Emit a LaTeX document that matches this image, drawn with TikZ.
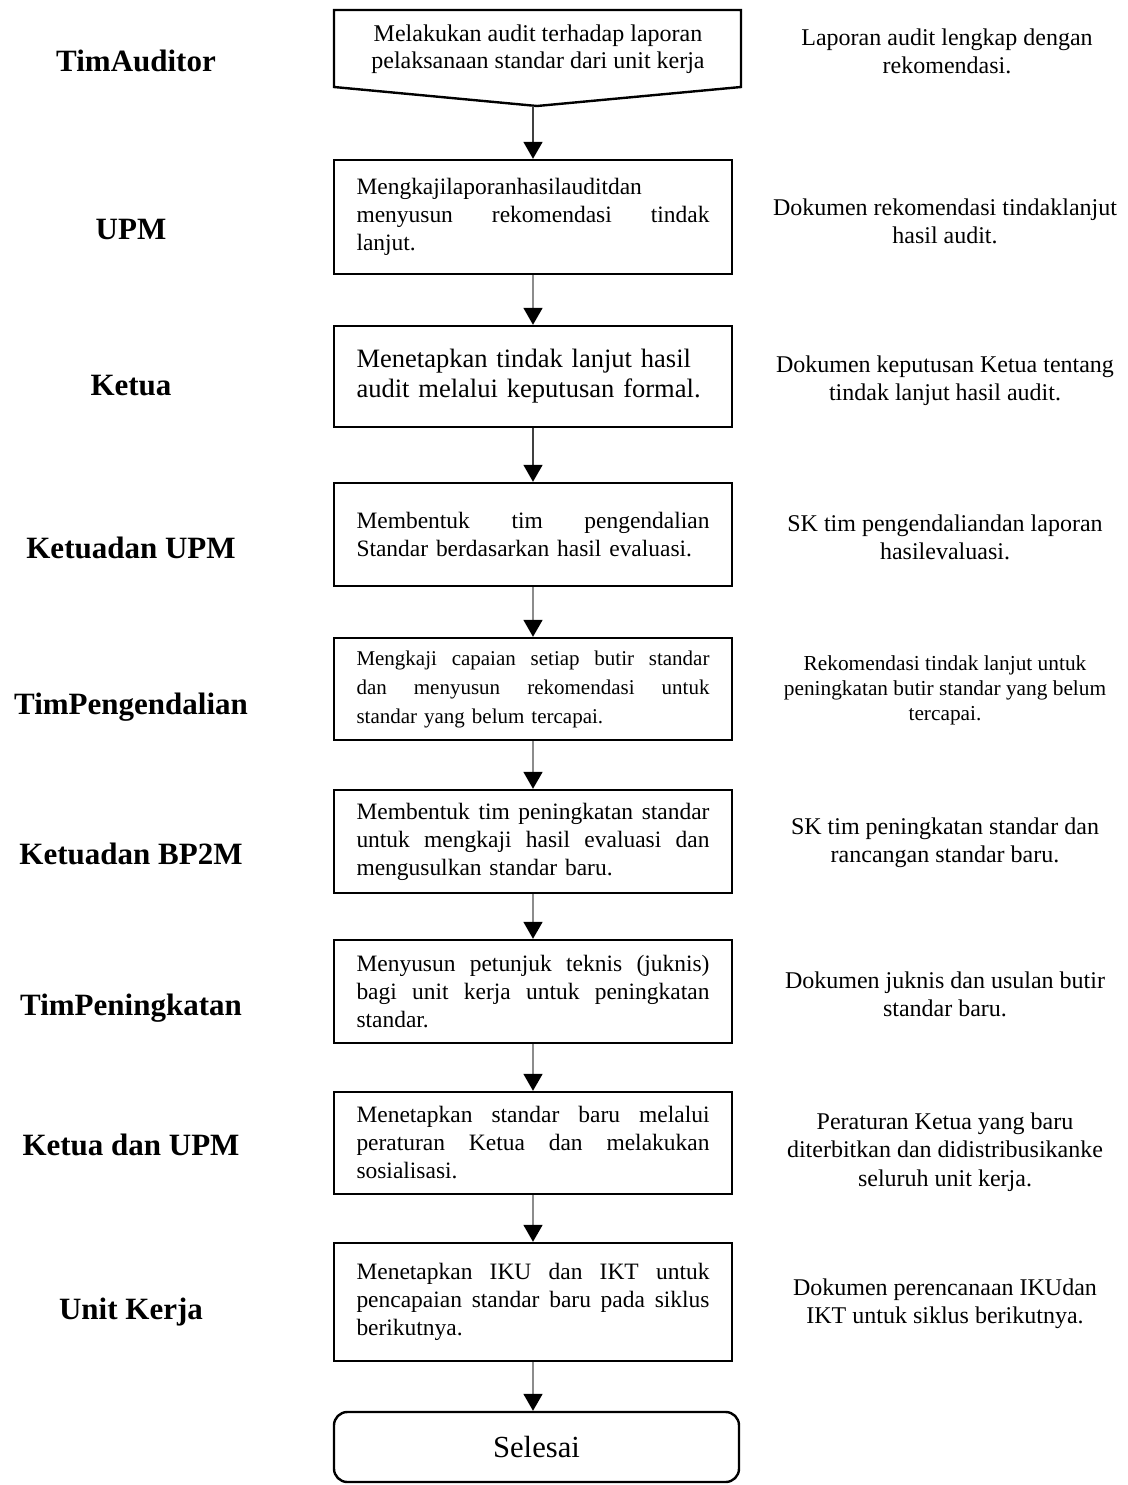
\documentclass[tikz,border=0pt]{standalone}
\usepackage{fontspec}
\setmainfont{Liberation Serif}
\usetikzlibrary{arrows.meta}
\definecolor{shaftdark}{gray}{0.25}
\definecolor{shaftlight}{gray}{0.55}
% a line whose interword spaces are stretched to the full text width
\newcommand{\fullline}[1]{\noindent\hbox to 264.75pt{\spaceskip=0.25em plus 1fil\relax #1}}
\begin{document}
\begin{tikzpicture}[x=0.75pt,y=-0.75pt,
  stepbox/.style={draw=black,line width=1.8pt,rectangle,text width=264.75pt,
    inner xsep=16.875pt,inner ysep=0pt,align=left,
    font=\fontsize{17.6pt}{21pt}\selectfont},
  boxh/.style={minimum height=#1*0.75pt},
  role/.style={anchor=base,font=\bfseries\fontsize{23.25pt}{26pt}\selectfont},
  output/.style={align=center,font=\fontsize{18pt}{21.2pt}\selectfont},
  flow/.style={draw=#1,line width=1.3pt,
    -{Triangle[length=12.75pt,width=14.25pt,color=black]}},
  flow/.default=shaftlight
]
\useasboundingbox (0,0) rectangle (1128,1485);

% first step: off-page connector shape
\draw[line width=1.8pt,line join=miter] (334,10) -- (741,10) -- (741,87) -- (537,106) -- (334,87) -- cycle;
\node[align=center,font=\fontsize{18pt}{20.3pt}\selectfont] (t1) at (538,49)
  {Melakukan audit terhadap laporan\\pelaksanaan standar dari unit kerja};
\coordinate (tip) at (533,106);

% process boxes
\node[stepbox,boxh=114] (b2) at (533,217)
  {Mengkajilaporanhasilauditdan\\\fullline{menyusun rekomendasi tindak}\\lanjut.};
\node[stepbox,boxh=101,font=\fontsize{19.9pt}{22.5pt}\selectfont] (b3) at (533,376.5)
  {Menetapkan tindak lanjut hasil\\audit melalui keputusan formal.};
\node[stepbox,boxh=103] (b4) at (533,534.5)
  {\fullline{Membentuk tim pengendalian}\\Standar berdasarkan hasil evaluasi.};
\node[stepbox,boxh=102,font=\fontsize{15.75pt}{21.75pt}\selectfont] (b5) at (533,689)
  {\fullline{Mengkaji capaian setiap butir standar}\\\fullline{dan menyusun rekomendasi untuk}\\standar yang belum tercapai.};
\node[stepbox,boxh=103] (b6) at (533,841.5)
  {\fullline{Membentuk tim peningkatan standar}\\\fullline{untuk mengkaji hasil evaluasi dan}\\mengusulkan standar baru.};
\node[stepbox,boxh=103] (b7) at (533,991.5)
  {\fullline{Menyusun petunjuk teknis (juknis)}\\\fullline{bagi unit kerja untuk peningkatan}\\standar.};
\node[stepbox,boxh=102] (b8) at (533,1143)
  {\fullline{Menetapkan standar baru melalui}\\\fullline{peraturan Ketua dan melakukan}\\sosialisasi.};
\node[stepbox,boxh=118] (b9) at (533,1302)
  {\fullline{Menetapkan IKU dan IKT untuk}\\\fullline{pencapaian standar baru pada siklus}\\berikutnya.};

% terminator
\node[draw=black,line width=1.8pt,rounded corners=10pt,minimum width=303.75pt,
  minimum height=52.5pt,inner sep=0pt,font=\fontsize{23pt}{26pt}\selectfont]
  (end) at (536.5,1447) {Selesai};

% connectors
\draw[flow=shaftdark] (tip) -- (b2.north);
\draw[flow] (b2.south) -- (b3.north);
\draw[flow=shaftdark] (b3.south) -- (b4.north);
\draw[flow] (b4.south) -- (b5.north);
\draw[flow] (b5.south) -- (b6.north);
\draw[flow] (b6.south) -- (b7.north);
\draw[flow] (b7.south) -- (b8.north);
\draw[flow] (b8.south) -- (b9.north);
\draw[flow] (b9.south) -- (b9.south |- end.north);

% responsible units
\node[role] (l1) at (136,71) {TimAuditor};
\node[role] (l2) at (131,239) {UPM};
\node[role] (l3) at (131,395) {Ketua};
\node[role] (l4) at (131,558) {Ketuadan UPM};
\node[role] (l5) at (131,714) {TimPengendalian};
\node[role] (l6) at (131,864) {Ketuadan BP2M};
\node[role] (l7) at (131,1015) {TimPeningkatan};
\node[role] (l8) at (131,1155) {Ketua dan UPM};
\node[role] (l9) at (131,1319) {Unit Kerja};

% outputs
\node[output] (r1) at (947,51) {Laporan audit lengkap dengan\\rekomendasi.};
\node[output] (r2) at (945,221) {Dokumen rekomendasi tindaklanjut\\hasil audit.};
\node[output] (r3) at (945,381) {Dokumen keputusan Ketua tentang\\tindak lanjut hasil audit.};
\node[output] (r4) at (945,537) {SK tim pengendaliandan laporan\\hasilevaluasi.};
\node[output,font=\fontsize{16pt}{18.75pt}\selectfont] (r5) at (945,690)
  {Rekomendasi tindak lanjut untuk\\peningkatan butir standar yang belum\\tercapai.};
\node[output] (r6) at (945,843) {SK tim peningkatan standar dan\\rancangan standar baru.};
\node[output] (r7) at (945,994) {Dokumen juknis dan usulan butir\\standar baru.};
\node[output] (r8) at (945,1152) {Peraturan Ketua yang baru\\diterbitkan dan didistribusikanke\\seluruh unit kerja.};
\node[output] (r9) at (945,1304) {Dokumen perencanaan IKUdan\\IKT untuk siklus berikutnya.};
\end{tikzpicture}
\end{document}
